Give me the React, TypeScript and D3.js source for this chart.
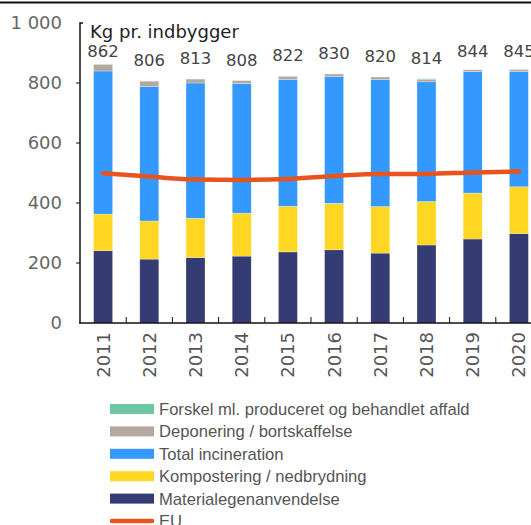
import { useEffect, useRef } from "react";
import * as d3 from "d3";

// ---------------------------------------------------------------------------
// Data (kg per inhabitant)
// ---------------------------------------------------------------------------

const YEARS = ["2011", "2012", "2013", "2014", "2015", "2016", "2017", "2018", "2019", "2020"];

const MATERIALE = [241, 213, 218, 223, 237, 244, 233, 260, 280, 298];
const KOMPOST = [122, 127, 131, 143, 152, 155, 155, 145, 153, 156];
const INCINERATION = [477, 448, 451, 432, 423, 422, 423, 399, 405, 384];
const DEPONERING = [22, 18, 13, 10, 10, 9, 9, 7, 6, 7];
const FORSKEL = [0, 0, 0, 0, 0, 0, 0, 3, 0, 0];

const EU = [499, 488, 478, 477, 480, 490, 497, 497, 502, 505];

const Y_TICKS = [0, 200, 400, 600, 800, 1000];

const SERIES = [
  { key: "mat", name: "Materialegenanvendelse", values: MATERIALE, color: "#353b73" },
  { key: "komp", name: "Kompostering / nedbrydning", values: KOMPOST, color: "#ffd621" },
  { key: "inc", name: "Total incineration", values: INCINERATION, color: "#3399fe" },
  { key: "dep", name: "Deponering / bortskaffelse", values: DEPONERING, color: "#b5a89f" },
  { key: "fors", name: "Forskel ml. produceret og behandlet affald", values: FORSKEL, color: "#6cc6a4" },
];

const EU_COLOR = "#e8541e";
const NUM_FONT = "'DejaVu Sans', sans-serif";
const TXT_FONT = "'Liberation Sans', Arial, sans-serif";

export default function App() {
  const svgRef = useRef<SVGSVGElement>(null);

  useEffect(() => {
    const width = 531;
    const height = 525;
    const svg = d3.select(svgRef.current);
    svg.selectAll("*").remove();
    svg.attr("width", width).attr("height", height);

    const left = 80;
    const x = d3.scaleBand<string>().domain(YEARS).range([left, 542]).paddingInner(0).paddingOuter(0);
    const y = d3.scaleLinear().domain([0, 1000]).range([323, 23]);
    const barW = 19;

    // top border
    svg.append("line")
      .attr("x1", 0).attr("x2", width)
      .attr("y1", 2.5).attr("y2", 2.5)
      .attr("stroke", "#111").attr("stroke-width", 2);

    // ---- stacked bars ----
    const rows = YEARS.map((yr, i) => {
      const r: Record<string, number | string> = { year: yr };
      SERIES.forEach((s) => (r[s.key] = s.values[i]));
      return r;
    });
    const stack = d3.stack<Record<string, number | string>>().keys(SERIES.map((s) => s.key));
    const layers = stack(rows as any);

    layers.forEach((layer, li) => {
      svg.append("g")
        .selectAll("rect")
        .data(layer.filter((d) => d[1] - d[0] > 0))
        .join("rect")
        .attr("x", (d) => x(d.data.year as string)! + x.bandwidth() / 2 - barW / 2)
        .attr("width", barW)
        .attr("y", (d) => y(d[1]))
        .attr("height", (d) => y(d[0]) - y(d[1]))
        .attr("fill", SERIES[li].color)
        .attr("stroke", "#ffffff")
        .attr("stroke-opacity", 0.45)
        .attr("stroke-width", 0.6);
    });

    // ---- totals ----
    const totals = YEARS.map((_, i) => d3.sum(SERIES, (s) => s.values[i]));
    svg.append("g")
      .selectAll("text")
      .data(totals)
      .join("text")
      .attr("x", (_, i) => x(YEARS[i])! + x.bandwidth() / 2)
      .attr("y", (d) => Math.max(y(d) - 15, 57))
      .attr("text-anchor", "middle")
      .attr("font-family", NUM_FONT)
      .attr("font-size", 16.5)
      .attr("fill", "#444")
      .text((d) => d);

    // ---- EU line ----
    const line = d3.line<number>()
      .x((_, i) => x(YEARS[i])! + x.bandwidth() / 2)
      .y((d) => y(d))
      .curve(d3.curveMonotoneX);
    svg.append("path")
      .attr("d", line(EU))
      .attr("fill", "none")
      .attr("stroke", EU_COLOR)
      .attr("stroke-width", 4.5)
      .attr("stroke-linecap", "round");

    // ---- y axis ----
    const ya = svg.append("g");
    ya.append("path")
      .attr("d", `M${left + 3},${y(1000)}H${left}V${y(0)}`)
      .attr("fill", "none")
      .attr("stroke", "#111")
      .attr("stroke-width", 1.5);
    ya.selectAll("line.tick")
      .data(Y_TICKS.filter((t) => t > 0 && t < 1000))
      .join("line")
      .attr("class", "tick")
      .attr("x1", left - 4).attr("x2", left)
      .attr("y1", (d) => y(d)).attr("y2", (d) => y(d))
      .attr("stroke", "#111");
    ya.selectAll("text")
      .data(Y_TICKS)
      .join("text")
      .attr("x", 62)
      .attr("y", (d) => y(d))
      .attr("dy", "0.36em")
      .attr("text-anchor", "end")
      .attr("font-family", NUM_FONT)
      .attr("font-size", 18)
      .attr("fill", "#666")
      .text((d) => d3.format(",")(d).replace(",", " "));

    // title
    svg.append("text")
      .attr("x", 90).attr("y", 38)
      .attr("font-family", NUM_FONT)
      .attr("font-size", 18)
      .attr("fill", "#222")
      .text("Kg pr. indbygger");

    // ---- x axis ----
    const xa = svg.append("g");
    xa.append("line")
      .attr("x1", left - 1).attr("x2", width)
      .attr("y1", y(0)).attr("y2", y(0))
      .attr("stroke", "#111").attr("stroke-width", 1.5);
    xa.selectAll("line.tick")
      .data(YEARS.map((yr) => x(yr)! + x.bandwidth()))
      .join("line")
      .attr("class", "tick")
      .attr("x1", (d) => d).attr("x2", (d) => d)
      .attr("y1", y(0) - 6).attr("y2", y(0))
      .attr("stroke", "#111");
    xa.selectAll("text")
      .data(YEARS)
      .join("text")
      .attr("transform", (d) => `translate(${x(d)! + x.bandwidth() / 2},332) rotate(-90)`)
      .attr("dy", "0.36em")
      .attr("text-anchor", "end")
      .attr("font-family", NUM_FONT)
      .attr("font-size", 18)
      .attr("fill", "#555")
      .text((d) => d);

    // ---- legend ----
    const legendItems = [...SERIES].reverse();
    const lg = svg.append("g").attr("transform", "translate(110,409)");
    legendItems.forEach((s, i) => {
      const row = lg.append("g").attr("transform", `translate(0,${i * 22.4})`);
      row.append("rect")
        .attr("x", 0).attr("y", -5)
        .attr("width", 44).attr("height", 10)
        .attr("fill", s.color);
      row.append("text")
        .attr("x", 49).attr("y", 0)
        .attr("dy", "0.36em")
        .attr("font-family", TXT_FONT)
        .attr("font-size", 16.6)
        .attr("fill", "#555")
        .text(s.name);
    });
    const euRow = lg.append("g").attr("transform", `translate(0,${legendItems.length * 22.4})`);
    euRow.append("line")
      .attr("x1", 2).attr("x2", 42)
      .attr("y1", 0).attr("y2", 0)
      .attr("stroke", EU_COLOR)
      .attr("stroke-width", 4.5)
      .attr("stroke-linecap", "round");
    euRow.append("text")
      .attr("x", 49).attr("y", 0)
      .attr("dy", "0.36em")
      .attr("font-family", TXT_FONT)
      .attr("font-size", 16.6)
      .attr("fill", "#555")
      .text("EU");
  }, []);

  return (
    <svg
      ref={svgRef}
      width={531}
      height={525}
      style={{ position: "absolute", left: 0, top: 0, display: "block" }}
    />
  );
}
